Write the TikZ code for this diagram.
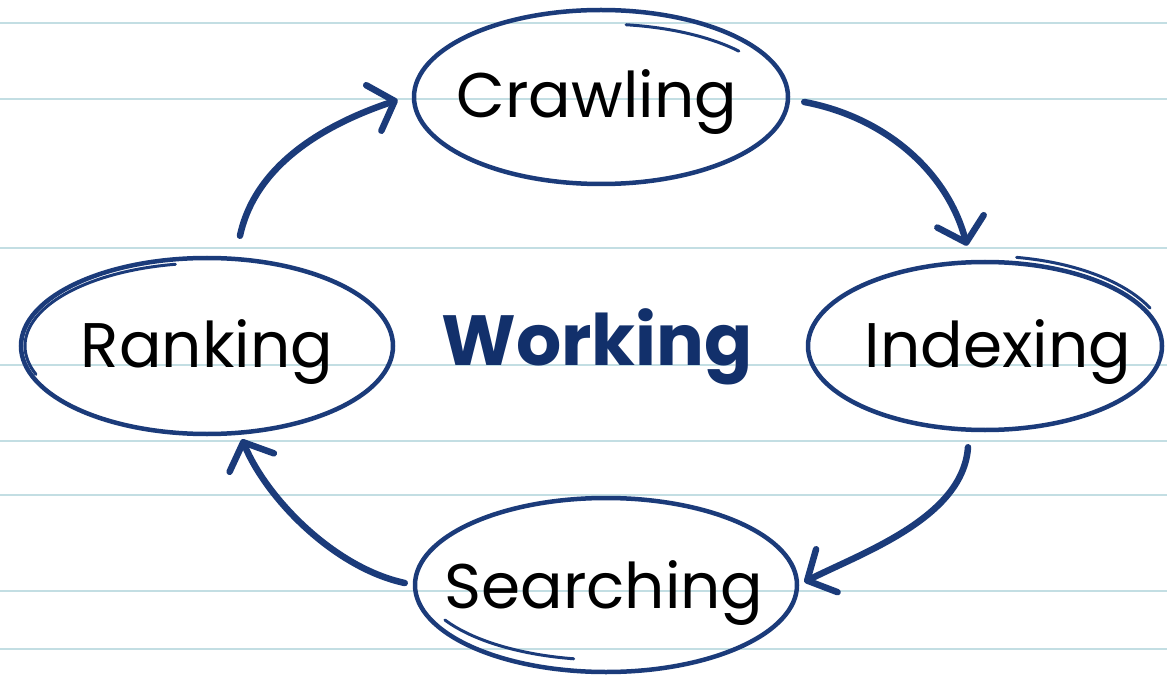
\documentclass[tikz,border=0pt]{standalone}
\usepackage{fontspec}
\setmainfont{Poppins}
\usetikzlibrary{arrows.meta,shapes.geometric}
\definecolor{ink}{HTML}{1B3B7A}
\definecolor{inkdark}{HTML}{12306B}
\definecolor{rulecol}{HTML}{C3DEE3}
\begin{document}
\begin{tikzpicture}[x=1pt,y=-1pt,
  oval/.style={draw=ink, line width=4.5pt, ellipse, inner sep=0pt},
  lbl/.style={anchor=base, font=\fontsize{63}{65}\selectfont, text=black, inner sep=0pt},
  flow/.style={draw=ink, line width=6.5pt, line cap=round, -{Straight Barb[length=22pt,width=48pt,line cap=round,line join=round]}},
  sketch/.style={draw=ink, line width=3pt, line cap=round},
  rulel/.style={draw=rulecol, line width=2.5pt}]
\fill[white] (0,0) rectangle (1167,676);
\useasboundingbox (0,0) rectangle (1167,676);
\foreach \yy in {23,99,248,365,441,495,591,649} \draw[rulel] (0,\yy) -- (1167,\yy);
% ellipses
\node[oval, minimum width=374pt, minimum height=174pt] (crawl) at (601,97) {};
\node[oval, minimum width=354pt, minimum height=168pt] (idx) at (985,346) {};
\node[oval, minimum width=372pt, minimum height=176pt] (rank) at (207,346) {};
\node[oval, minimum width=382pt, minimum height=174pt] (srch) at (606,585) {};
% sketchy extra strokes
\draw[sketch] (601,100) ++(82:180pt and 76pt) arc[start angle=82, end angle=40, x radius=180pt, y radius=76pt];
\draw[sketch] (985,346) ++(80:182pt and 90pt) arc[start angle=80, end angle=25, x radius=182pt, y radius=90pt];
\draw[sketch] (207,346) ++(100:182pt and 83pt) arc[start angle=100, end angle=200, x radius=182pt, y radius=83pt];
\draw[sketch] (606,580) ++(-100:186pt and 80pt) arc[start angle=-100, end angle=-150, x radius=186pt, y radius=80pt];
% labels
\node[lbl] (crawlt) at (597,118) {Crawling};
\node[lbl] (idxt) at (998,367) {Indexing};
\node[lbl] (rankt) at (207,367) {Ranking};
\node[lbl] (srcht) at (604,608) {Searching};
\node[anchor=base, inner sep=0pt, text=inkdark, font=\bfseries\fontsize{71}{73}\selectfont] (work) at (597,365) {Working};
% connectors
\draw[flow] ([shift={(33,-20)}]rank.north) .. controls +(15,-70) and +(-75,25) .. ([shift={(-14,3)}]crawl.west);
\draw[flow] ([shift={(14,5)}]crawl.east) .. controls +(80,15) and +(-20,-75) .. ([shift={(-18,-14)}]idx.north);
\draw[flow] ([shift={(-17,15)}]idx.south) .. controls +(-5,70) and +(60,-30) .. ([shift={(5,-3)}]srch.east);
\draw[flow] ([shift={(-8,-2)}]srch.west) .. controls +(-70,-15) and +(25,60) .. ([shift={(35,3)}]rank.south);
\end{tikzpicture}
\end{document}
